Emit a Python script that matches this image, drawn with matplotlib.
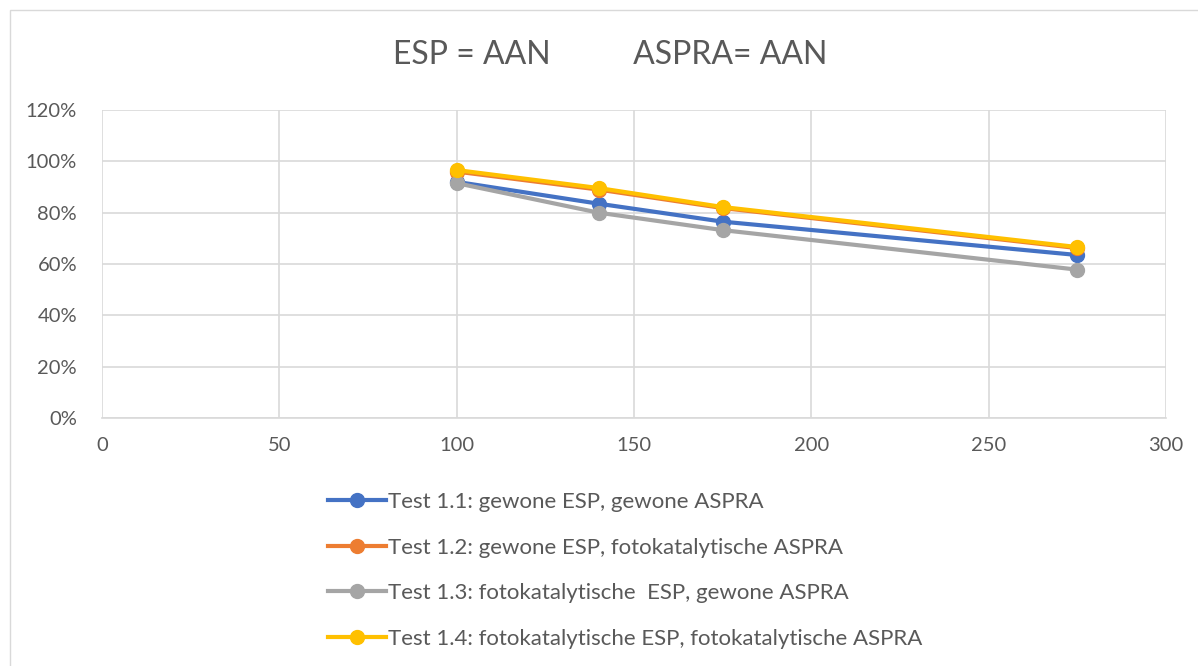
import matplotlib.pyplot as plt
from matplotlib.lines import Line2D

plt.rcParams['font.family'] = ['Lato', 'DejaVu Sans']

# Data
x_vals = [100, 140, 175, 275]
test_11 = [0.92, 0.835, 0.765, 0.635]
test_12 = [0.96, 0.89, 0.818, 0.662]
test_13 = [0.915, 0.80, 0.732, 0.578]
test_14 = [0.966, 0.896, 0.822, 0.666]

labels = [
    'Test 1.1: gewone ESP, gewone ASPRA',
    'Test 1.2: gewone ESP, fotokatalytische ASPRA',
    'Test 1.3: fotokatalytische  ESP, gewone ASPRA',
    'Test 1.4: fotokatalytische ESP, fotokatalytische ASPRA',
]
colors = ['#4472c4', '#ed7d31', '#a5a5a5', '#ffc000']
series = [test_11, test_12, test_13, test_14]

TXT = '#595959'
GRID = '#d9d9d9'

fig = plt.figure(figsize=(11.98, 6.66), dpi=100)
ax = fig.add_axes([102 / 1198, 1 - 418 / 666, (1166 - 102) / 1198, (418 - 110) / 666])

for ys, c, lab in zip(series, colors, labels):
    ax.plot(x_vals, ys, color=c, linewidth=3, marker='o', markersize=10,
            label=lab, zorder=3, solid_capstyle='round')

ax.set_xlim(0, 300)
ax.set_ylim(0, 1.2)
ax.set_xticks(range(0, 301, 50))
ax.set_yticks([i / 5 for i in range(7)])
ax.set_yticklabels([f'{i * 20}%' for i in range(7)])
ax.grid(True, color=GRID, linewidth=1.2)
ax.set_axisbelow(True)
for s in ['top', 'right', 'left']:
    ax.spines[s].set_visible(False)
ax.spines['bottom'].set_color(GRID)
ax.spines['bottom'].set_linewidth(1.2)
ax.tick_params(length=0, labelsize=14.5, labelcolor=TXT)
ax.tick_params(axis='x', pad=14)
ax.tick_params(axis='y', pad=18)

fig.text(610 / 1198, 1 - 55 / 666, 'ESP = AAN          ASPRA= AAN',
         ha='center', va='center', fontsize=23, color=TXT)

handles = [Line2D([0], [0], color=c, linewidth=3, marker='o', markersize=10) for c in colors]
leg = fig.legend(handles, labels, loc='upper left', bbox_to_anchor=(308 / 1198, 1 - 472 / 666),
                 frameon=False, fontsize=16, handlelength=2.6, labelspacing=1.15,
                 handletextpad=0.08, labelcolor=TXT)

# light border of the chart area
fig.add_artist(plt.Rectangle((10 / 1198, -0.01), 1.0, 1 - 10 / 666 + 0.01,
                             transform=fig.transFigure, fill=False,
                             edgecolor=GRID, linewidth=1))

plt.savefig('out.png', dpi=100)
